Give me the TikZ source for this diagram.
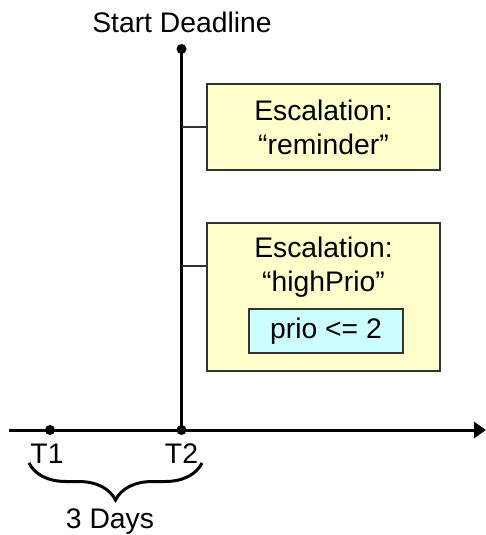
\documentclass[tikz,border=0pt]{standalone}
\usepackage{fontspec}
\setmainfont{Liberation Sans}
\usetikzlibrary{arrows.meta,decorations.pathreplacing}
\definecolor{boxfill}{HTML}{FFFFCC}
\definecolor{condfill}{HTML}{CCFFFF}
\definecolor{edge}{HTML}{333333}
\tikzset{
  axisline/.style={line width=3pt},
  tick/.style={line width=1.3pt, draw=edge},
  escbox/.style={draw=edge, line width=1.3pt, fill=boxfill, minimum width=233pt, inner sep=0pt},
  condbox/.style={draw=edge, line width=1.3pt, fill=condfill, minimum width=154pt, minimum height=44pt, inner sep=0pt},
  lbl/.style={font=\fontsize{28.3}{34}\selectfont, align=center, inner sep=0pt},
  dot/.style={circle, fill=black, inner sep=0pt, minimum size=10pt}
}
\begin{document}
\begin{tikzpicture}[x=1pt, y=-1pt]
  \useasboundingbox (0,0) rectangle (486,535);

  % time axis and deadline line
  \coordinate (ax0) at (9,430);
  \coordinate (ax1) at (486,430);
  \node[dot] (t1) at (50,430) {};
  \node[dot] (t2) at (181.5,430) {};
  \node[dot] (sd) at (181.5,49) {};
  \draw[axisline, -{Triangle[length=12pt, width=16pt]}] (ax0) -- (ax1);
  \draw[axisline] (t2.center) -- (sd.center);

  \node[lbl] (sdl) at (182,22) {Start Deadline};
  \node[lbl] (t1l) at (47,454) {T1};
  \node[lbl] (t2l) at (181.5,454) {T2};

  % escalation boxes
  \node[escbox, minimum height=86pt] (esc1) at (323.5,127) {};
  \node[lbl] (esc1t) at (323.5,127.5) {Escalation:\\“reminder”};

  \node[escbox, minimum height=148pt] (esc2) at (323.5,297) {};
  \node[lbl] (esc2t) at (323.5,267) {Escalation:\\“highPrio”};
  \node[condbox] (cond) at (326,331) {};
  \node[lbl] (condt) at (326,331) {prio <= 2};

  % links from the deadline line to the boxes
  \coordinate (c2) at (207,266);
  \draw[tick] (esc1.west) -- (esc1.west -| t2);
  \draw[tick] (c2) -- (c2 -| t2);

  % duration brace
  \coordinate (b0) at (29,463);
  \coordinate (b1) at (202,463);
  \draw[line width=3pt, decorate, decoration={brace, mirror, amplitude=37pt}] (b0) -- (b1);
  \node[lbl] (days) at (110,522) {3 Days};
\end{tikzpicture}
\end{document}
